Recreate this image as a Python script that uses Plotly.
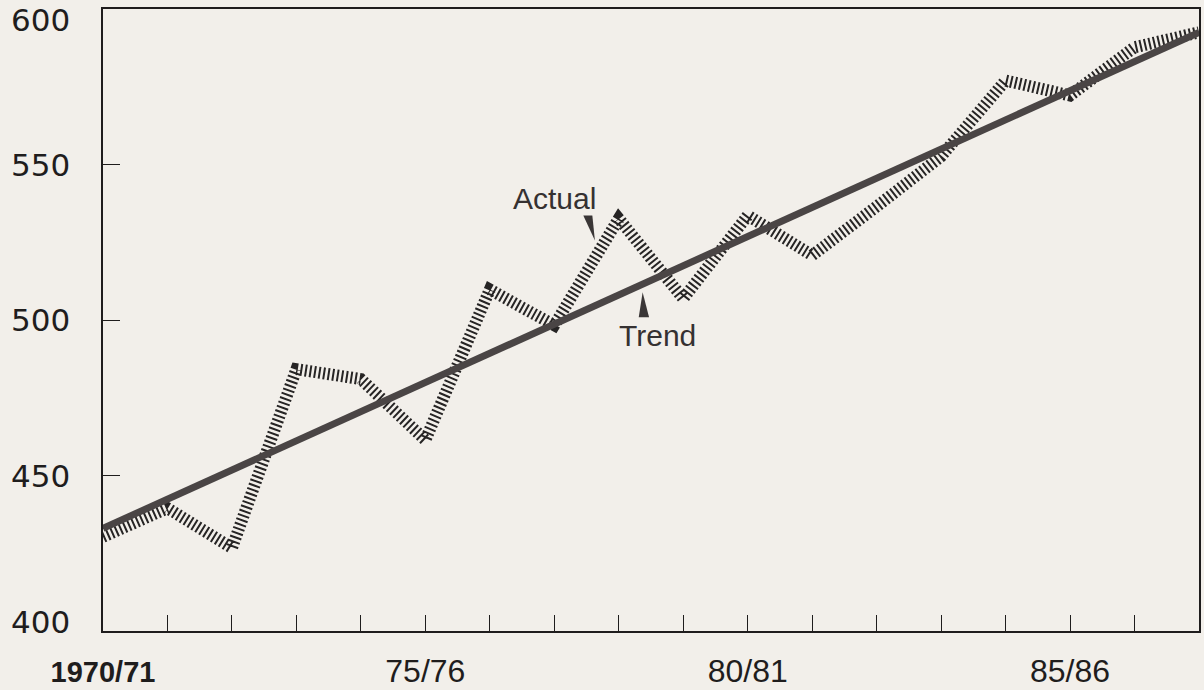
import plotly.graph_objects as go

# ---- data ----
years = list(range(18))  # 0 = 1970/71 ... 17 = 1987/88
actual = [430.3, 439.5, 426.7, 484.2, 481.0, 461.4, 509.8, 498.3, 532.6,
          506.9, 533.6, 520.8, 536.5, 552.6, 577.0, 572.2, 587.7, 592.5]
trend_x = [0, 17]
trend_y = [433.0, 592.5]

x_tickvals = [0, 5, 10, 15]
x_ticktext = ['<span style="font-size:29px"><b>1970/71</b></span>', "75/76", "80/81", "85/86"]
y_tickvals = [400, 450, 500, 550, 600]
y_ticktext = ["400", "450", "500", "550", "600"]
y_label_shift = [9, 0, 0, 0, -11]   # end labels sit inside the frame

BG = "#f2efea"
INK = "#1f1d1d"
FONT = "Liberation Sans, Arial, sans-serif"
NUMFONT = "DejaVu Sans, sans-serif"

fig = go.Figure()

fig.add_trace(go.Scatter(
    x=years, y=actual, mode="lines", name="Actual",
    line=dict(color="#262424", width=12, dash="2px,2.6px"),
    hoverinfo="x+y"))

fig.add_trace(go.Scatter(
    x=trend_x, y=trend_y, mode="lines", name="Trend",
    line=dict(color="#4a4545", width=7),
    hoverinfo="x+y"))

# label texts
fig.add_annotation(x=7.0, y=539.1, text="Actual", showarrow=False,
                   font=dict(family=FONT, size=30, color="#353131"))
fig.add_annotation(x=8.6, y=495.1, text="Trend", showarrow=False,
                   font=dict(family=FONT, size=30, color="#353131"))

# pointer wedges
fig.add_shape(type="path", xref="x", yref="y",
              path="M 7.45 533.6 L 7.59 533.6 L 7.63 525.6 Z",
              fillcolor="#3a3636", line=dict(width=0))
fig.add_shape(type="path", xref="x", yref="y",
              path="M 8.31 500.9 L 8.47 500.9 L 8.37 508.9 Z",
              fillcolor="#3a3636", line=dict(width=0))

# y-axis value labels
for v, t, s in zip(y_tickvals, y_ticktext, y_label_shift):
    fig.add_annotation(x=0, xref="paper", y=v, yref="y", text=t,
                       showarrow=False, xanchor="right", yanchor="middle",
                       xshift=-31, yshift=s,
                       font=dict(family=NUMFONT, size=31, color=INK))

fig.update_layout(
    width=1204, height=690,
    margin=dict(l=103, r=5, t=9, b=59),
    paper_bgcolor=BG, plot_bgcolor=BG,
    showlegend=False,
    font=dict(family=FONT, color=INK),
)

fig.update_xaxes(
    range=[0, 17], showgrid=False, zeroline=False, automargin=False,
    showline=True, linecolor=INK, linewidth=2, mirror=True,
    ticks="inside", ticklen=16, tickwidth=1, tickcolor=INK,
    tickmode="array", tickvals=years,
    ticktext=[x_ticktext[x_tickvals.index(v)] if v in x_tickvals else "" for v in years],
    tickfont=dict(family=FONT, size=32, color=INK),
    ticklabelstandoff=11,
)
fig.update_yaxes(
    range=[400, 600], showgrid=False, zeroline=False, automargin=False,
    showline=True, linecolor=INK, linewidth=2, mirror=True,
    ticks="inside", ticklen=17, tickwidth=1, tickcolor=INK,
    tickmode="array", tickvals=y_tickvals, showticklabels=False,
)

fig.write_html("out.html", config={"displayModeBar": False},
               post_script="document.body.style.margin='0';document.body.style.background='%s';" % BG)
